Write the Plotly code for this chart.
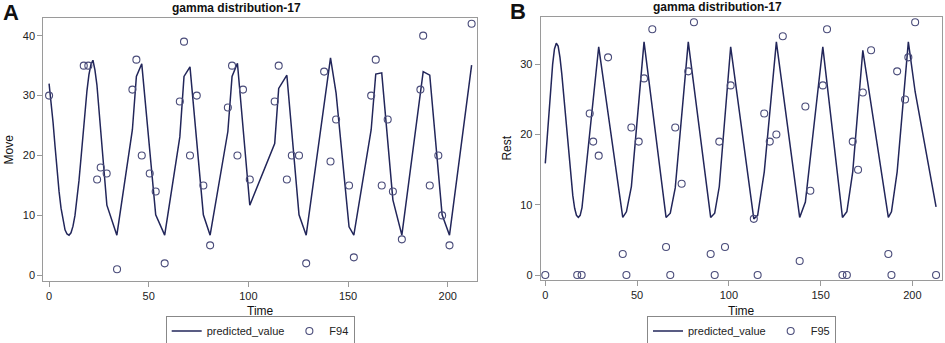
import plotly.graph_objects as go

# ---------------- Panel A (Move) ----------------
move_line_time = [0, 1, 2, 3, 4, 5, 6, 7, 8, 9, 10, 11, 12, 13, 14, 15, 16, 17, 18, 19, 20, 21, 22, 23,
                  24, 29, 34, 41.8, 43.8, 46.5, 53.5, 58, 65.6, 67.7, 70.7, 77.4, 80.8, 89.7, 91.8, 94.5,
                  100.7, 113.2, 115.2, 119.3, 125.4, 129.0, 141.2, 144.0, 150.5, 152.9, 161.6, 163.9,
                  166.9, 172.5, 177.0, 187.7, 191.0, 197.2, 200.9, 212.0]
move_line_value = [32.0, 29.0, 25.5, 21.5, 17.5, 14.0, 11.2, 9.0, 7.6, 6.9, 6.7, 7.1, 8.2, 10.0, 12.6,
                   15.8, 19.5, 23.5, 27.4, 30.8, 33.5, 35.2, 35.9, 34.3,
                   31.8, 11.7, 6.7, 24.3, 33.2, 35.3, 10.1, 6.7, 23.1, 33.2, 34.8, 10.1, 6.7, 24.0, 33.2, 35.4,
                   11.7, 22.0, 31.2, 33.4, 10.1, 6.7, 36.3, 30.4, 8.1, 6.7, 24.3, 33.6,
                   33.8, 12.6, 6.7, 34.0, 33.4, 10.1, 6.7, 35.1]

f94_time = [0, 17.4, 19.7, 24.1, 25.9, 28.9, 34.1, 41.8, 43.8, 46.5, 50.5, 53.5, 58.0, 65.6, 67.7, 70.7,
            74.1, 77.4, 80.8, 89.7, 91.8, 94.5, 97.3, 100.7, 113.2, 115.2, 119.3, 121.8, 125.4, 129.0,
            138.0, 141.2, 144.0, 150.5, 152.9, 161.6, 163.9, 166.9, 169.9, 172.5, 177.0, 186.3, 187.7,
            191.0, 195.3, 197.2, 200.9, 212.0]
f94_value = [30, 35, 35, 16, 18, 17, 1, 31, 36, 20, 17, 14, 2, 29, 39, 20,
             30, 15, 5, 28, 35, 20, 31, 16, 29, 35, 16, 20, 20, 2,
             34, 19, 26, 15, 3, 30, 36, 15, 26, 14, 6, 31, 40,
             15, 20, 10, 5, 42]

# ---------------- Panel B (Rest) ----------------
rest_line_time = [0, 1, 2, 3, 4, 5, 6, 7, 8, 9, 10, 11, 12, 13, 14, 15, 16, 17, 18, 19, 20,
                  29.1, 42.2, 44.2, 46.9, 53.8, 65.8, 68.1, 70.8, 77.9, 90.1, 92.3, 94.8, 101.0,
                  113.6, 115.7, 119.3, 125.9, 138.6, 141.7, 151.2, 161.9, 164.3, 167.5, 173.0,
                  186.9, 188.6, 191.7, 197.8, 201.5, 212.9]
rest_line_value = [15.9, 19.5, 23.5, 27.0, 30.0, 32.2, 33.0, 32.6, 31.0, 28.6, 25.7, 22.5, 19.3, 16.3,
                   13.6, 11.3, 9.5, 8.5, 8.2, 8.5, 9.6,
                   32.5, 8.2, 9.0, 12.6, 33.2, 8.2, 8.8, 12.4, 33.2, 8.2, 8.8, 12.6, 32.5,
                   8.0, 8.5, 14.7, 33.2, 8.2, 10.4, 32.5, 8.2, 9.0, 14.7, 32.0,
                   8.2, 9.0, 14.7, 33.2, 26.1, 9.7]

f95_time = [0, 17.4, 19.8, 24.2, 26.1, 29.1, 34.2, 42.2, 44.2, 46.9, 50.9, 53.8, 58.3, 65.8, 68.1, 70.8,
            74.3, 77.9, 81.0, 90.1, 92.3, 94.8, 97.9, 101.0, 113.6, 115.7, 119.3, 122.3, 125.9, 129.4,
            138.6, 141.7, 144.4, 151.2, 153.5, 161.9, 164.3, 167.5, 170.4, 173.0, 177.5, 186.9, 188.6,
            191.7, 196.0, 197.8, 201.5, 212.9]
f95_value = [0, 0, 0, 23, 19, 17, 31, 3, 0, 21, 19, 28, 35, 4, 0, 21,
             13, 29, 36, 3, 0, 19, 4, 27, 8, 0, 23, 19, 20, 34,
             2, 24, 12, 27, 35, 0, 0, 19, 15, 26, 32, 3, 0,
             29, 25, 31, 36, 0]

x_ticks = [0, 50, 100, 150, 200]
move_ticks = [0, 10, 20, 30, 40]
rest_ticks = [0, 10, 20, 30]

LINE_COLOR = "#22265a"
MARK_COLOR = "#4a4c7a"
FRAME = "#9a9a9a"
FONT = "Arial, Liberation Sans, sans-serif"
W, H = 945, 343

fig = go.Figure()

fig.add_trace(go.Scatter(x=move_line_time, y=move_line_value, mode="lines", name="predicted_value",
                         line=dict(color=LINE_COLOR, width=1.5), xaxis="x", yaxis="y", legend="legend"))
fig.add_trace(go.Scatter(x=f94_time, y=f94_value, mode="markers", name="F94",
                         marker=dict(symbol="circle-open", size=7, color=MARK_COLOR, line=dict(width=1.1)),
                         xaxis="x", yaxis="y", legend="legend"))
fig.add_trace(go.Scatter(x=rest_line_time, y=rest_line_value, mode="lines", name="predicted_value",
                         line=dict(color=LINE_COLOR, width=1.5), xaxis="x2", yaxis="y2", legend="legend2"))
fig.add_trace(go.Scatter(x=f95_time, y=f95_value, mode="markers", name="F95",
                         marker=dict(symbol="circle-open", size=7, color=MARK_COLOR, line=dict(width=1.1)),
                         xaxis="x2", yaxis="y2", legend="legend2"))

def px_x(p):
    return p / W

def px_y(p):
    return 1 - p / H

axis_common = dict(showgrid=False, zeroline=False, showline=True, linecolor=FRAME, linewidth=1,
                   mirror=True, ticks="outside", ticklen=5, tickcolor=FRAME, tickwidth=1,
                   tickfont=dict(family=FONT, size=11, color="#222"))

legend_common = dict(orientation="h", yanchor="middle", y=px_y(331),
                     bordercolor="#888", borderwidth=1, font=dict(family=FONT, size=11, color="#222"),
                     bgcolor="white", itemwidth=30, tracegroupgap=0, xanchor="center")

fig.update_layout(
    width=W, height=H, margin=dict(l=0, r=0, t=0, b=0, autoexpand=False),
    paper_bgcolor="white", plot_bgcolor="white",
    font=dict(family=FONT, color="#222"),
    xaxis=dict(domain=[px_x(43.3), px_x(477)], range=[-2.9, 214.7], tickvals=x_ticks,
               anchor="y", **axis_common),
    yaxis=dict(domain=[px_y(280.7), px_y(18.3)], range=[-0.9, 42.9], tickvals=move_ticks,
               anchor="x", **axis_common),
    xaxis2=dict(domain=[px_x(540.7), px_x(942.3)], range=[-2.5, 216.3], tickvals=x_ticks,
                anchor="y2", **axis_common),
    yaxis2=dict(domain=[px_y(280), px_y(17.3)], range=[-0.71, 36.7], tickvals=rest_ticks,
                anchor="x2", **axis_common),
    legend=dict(x=px_x(260.2), **legend_common),
    legend2=dict(x=px_x(741.5), **legend_common),
    showlegend=True,
)

ann = []
def add_text(text, x, y, size, bold=False, angle=0):
    ann.append(dict(text=f"<b>{text}</b>" if bold else text, x=px_x(x), y=px_y(y), xref="paper",
                    yref="paper", showarrow=False, xanchor="center", yanchor="middle",
                    textangle=angle, font=dict(family=FONT, size=size, color="#111")))

add_text("gamma distribution-17", 236.2, 8, 12, bold=True)
add_text("gamma distribution-17", 717.8, 7.5, 12, bold=True)
add_text("A", 11, 13, 22, bold=True)
add_text("B", 518, 12, 22, bold=True)
add_text("Move", 8, 149.5, 12, angle=-90)
add_text("Rest", 507, 148.6, 12, angle=-90)
add_text("Time", 260.2, 311, 12)
add_text("Time", 741.5, 311, 12)
fig.update_layout(annotations=ann)

fig.write_html("out.html", config={"displayModeBar": False},
               post_script="document.body.style.margin='0';document.body.style.padding='0';")
